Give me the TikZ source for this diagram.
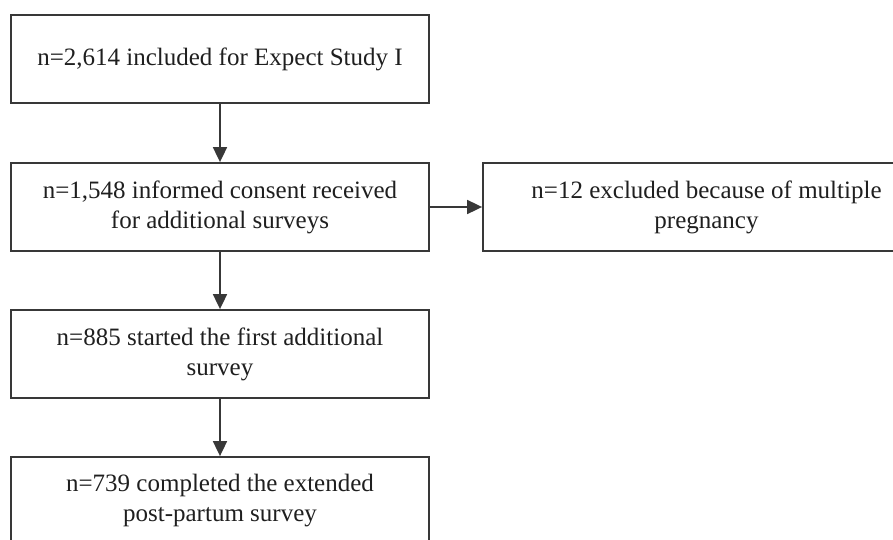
\documentclass[tikz,border=0pt]{standalone}
\usepackage{fontspec}
\setmainfont{Liberation Serif}
\usetikzlibrary{arrows.meta}
\definecolor{rule}{rgb}{0.22,0.22,0.22}
\definecolor{ink}{rgb}{0.12,0.12,0.12}
\tikzset{
  flowbox/.style={draw=rule,line width=1.8pt,minimum height=88pt,inner sep=0pt,
    align=center,text=ink,font=\fontsize{25}{30}\selectfont},
  flowarrow/.style={draw=rule,line width=1.8pt,-{Triangle[length=15pt,width=14pt]}}
}
\begin{document}
\begin{tikzpicture}[x=1pt,y=-1pt]
\useasboundingbox (0,0) rectangle (893,540);
\clip (0,0) rectangle (893,540);
\node[flowbox,minimum width=418pt] (incl) at (220,59) {n=2,614 included for Expect Study I};
\node[flowbox,minimum width=418pt] (cons) at (220,207) {n=1,548 informed consent received\\for additional surveys};
\node[flowbox,minimum width=447pt] (excl) at (706.5,207) {n=12 excluded because of multiple\\pregnancy};
\node[flowbox,minimum width=418pt] (first) at (220,354) {n=885 started the first additional\\survey};
\node[flowbox,minimum width=418pt] (post) at (220,501) {n=739 completed the extended\\post-partum survey};
\draw[flowarrow] (incl) -- (cons);
\draw[flowarrow] (cons) -- (excl);
\draw[flowarrow] (cons) -- (first);
\draw[flowarrow] (first) -- (post);
\end{tikzpicture}
\end{document}
